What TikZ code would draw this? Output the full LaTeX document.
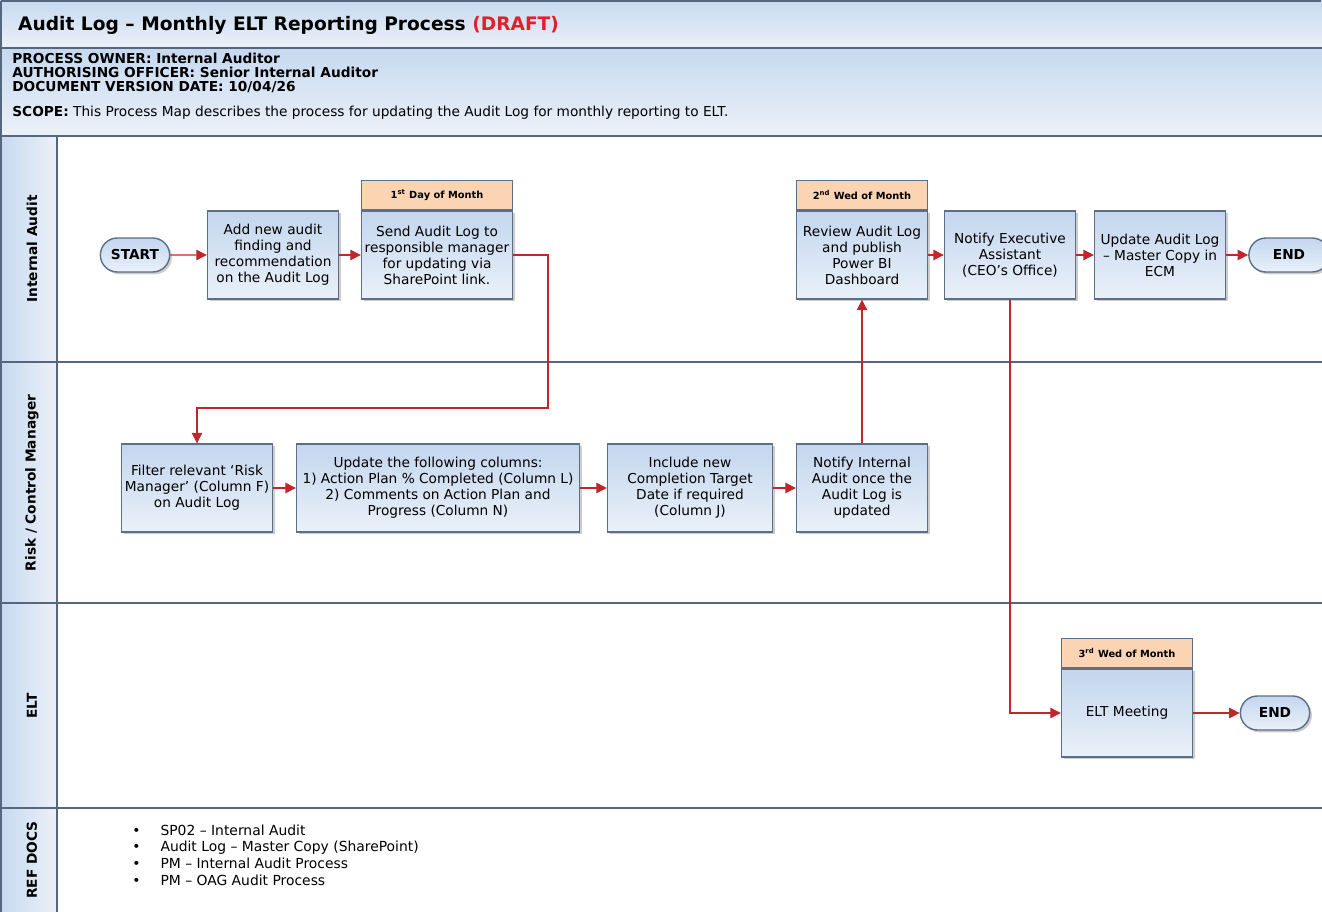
\documentclass[tikz,border=0pt]{standalone}
\usepackage{fontspec}
\setmainfont{DejaVu Sans}
\usetikzlibrary{arrows.meta,shadows,shapes.misc,positioning}

\definecolor{boxtop}{HTML}{C3D6EE}
\definecolor{boxbot}{HTML}{EAF1F9}
\definecolor{boxline}{HTML}{5B6F86}
\definecolor{hdrfill}{HTML}{FBD4B4}
\definecolor{flowred}{HTML}{C0272D}
\definecolor{laneline}{HTML}{56677D}
\definecolor{bandtop}{HTML}{C6D9F0}
\definecolor{bandbot}{HTML}{ECF1F8}
\definecolor{draftred}{HTML}{E0202A}

\begin{document}
\begin{tikzpicture}[
        x=0.02cm, y=-0.02cm,
        task/.style={rectangle, draw=boxline, thick, top color=boxtop, bottom color=boxbot, minimum width=2.62cm, minimum height=1.76cm, inner sep=1pt, align=center, font=\fontsize{7.8}{9.1}\selectfont, drop shadow={shadow xshift=1.3pt, shadow yshift=-1.3pt, fill=black!40}},
        day_box/.style={rectangle, draw=boxline, thick, fill=hdrfill, minimum width=2.62cm, minimum height=0.58cm, inner sep=1pt, font=\bfseries\fontsize{5.6}{6}\selectfont},
        term/.style={rounded rectangle, draw=boxline, thick, top color=boxtop, bottom color=boxbot, minimum width=1.62cm, minimum height=0.68cm, font=\bfseries\fontsize{7.8}{9}\selectfont, drop shadow={shadow xshift=1.3pt, shadow yshift=-1.3pt, fill=black!40}},
        arrow/.style={-{Triangle[length=6pt, width=6pt]}, draw=flowred, line width=0.6pt},
        lane_label/.style={rotate=90, font=\bfseries\fontsize{7.8}{8}\selectfont},
        frame/.style={draw=laneline, line width=1.1pt}
    ]
        \useasboundingbox (0,0) rectangle (1322,912);

        % Title and info bands
        \fill[top color=bandtop, bottom color=bandbot] (0,0) rectangle (1322,48);
        \fill[top color=bandtop, bottom color=bandbot] (0,48) rectangle (1322,136);
        \fill[left color=bandtop, right color=bandbot] (0,136) rectangle (57,912);

        \node[anchor=west, font=\bfseries\fontsize{10.6}{12}\selectfont] (title) at (12,25)
            {Audit Log – Monthly ELT Reporting Process \textcolor{draftred}{(DRAFT)}};
        \node[anchor=north west, align=left, inner sep=0pt, font=\bfseries\fontsize{7.8}{7.9}\selectfont] (owner) at (12,53)
            {PROCESS OWNER: Internal Auditor\\AUTHORISING OFFICER: Senior Internal Auditor\\DOCUMENT VERSION DATE: 10/04/26};
        \node[anchor=west, inner sep=0pt, font=\fontsize{7.8}{9}\selectfont] (scope) at (12,113)
            {\textbf{SCOPE:} This Process Map describes the process for updating the Audit Log for monthly reporting to ELT.};

        % Frame lines
        \draw[frame] (1,1) -- (1321,1) (1,1) -- (1,912);
        \draw[frame] (0,48) -- (1322,48);
        \draw[frame] (0,136) -- (1322,136);
        \draw[frame] (0,362) -- (1322,362);
        \draw[frame] (0,603) -- (1322,603);
        \draw[frame] (0,808) -- (1322,808);
        \draw[frame] (57,136) -- (57,912);

        % Lane labels
        \node[lane_label] (lane_ia) at (32,249) {Internal Audit};
        \node[lane_label] (lane_rm) at (32,483) {Risk / Control Manager};
        \node[lane_label] (lane_elt) at (32,706) {ELT};
        \node[lane_label] (lane_ref) at (32,860) {REF DOCS};

        % Internal Audit lane
        \node[term] (start) at (135,255) {START};
        \node[task] (addfind) at (273,255) {Add new audit\\finding and\\recommendation\\on the Audit Log};
        \node[task, minimum width=3.02cm] (send) at (437,255) {Send Audit Log to\\responsible manager\\for updating via\\SharePoint link.};
        \node[day_box, minimum width=3.02cm, above=0pt of send] (day_first) {1\textsuperscript{st} Day of Month};
        \node[task] (review) at (862,255) {Review Audit Log\\and publish\\Power BI\\Dashboard};
        \node[day_box, above=0pt of review] (day_second) {2\textsuperscript{nd} Wed of Month};
        \node[task] (notexec) at (1010,255) {Notify Executive\\Assistant\\(CEO’s Office)};
        \node[task] (updmaster) at (1160,255) {Update Audit Log\\– Master Copy in\\ECM};
        \node[term, minimum width=1.84cm] (end_ia) at (1289,255) {END};

        % Risk / Control Manager lane
        \node[task, minimum width=3.02cm] (filter) at (197,488) {Filter relevant ‘Risk\\Manager’ (Column F)\\on Audit Log};
        \node[task, minimum width=5.66cm] (updcols) at (438,488) {Update the following columns:\\1) Action Plan \% Completed (Column L)\\2) Comments on Action Plan and\\Progress (Column N)};
        \node[task, minimum width=3.3cm] (target) at (690,488) {Include new\\Completion Target\\Date if required\\(Column J)};
        \node[task] (notia) at (862,488) {Notify Internal\\Audit once the\\Audit Log is\\updated};

        % ELT lane
        \node[task] (eltmeet) at (1127,713) {ELT Meeting};
        \node[day_box, above=0pt of eltmeet] (day_third) {3\textsuperscript{rd} Wed of Month};
        \node[term] (end_elt) at (1275,713) {END};

        % REF DOCS lane
        \node[anchor=north west, inner sep=0pt, font=\fontsize{7.9}{9.5}\selectfont] (refdocs) at (132,823) {%
            \begin{tabular}{@{}l@{\hspace{0.4cm}}l@{}}
                \textbullet & SP02 – Internal Audit\\
                \textbullet & Audit Log – Master Copy (SharePoint)\\
                \textbullet & PM – Internal Audit Process\\
                \textbullet & PM – OAG Audit Process
            \end{tabular}};

        % Connectors
        \coordinate (sendturn) at (548,408);
        \draw[arrow] (start) -- (addfind);
        \draw[arrow] (addfind) -- (send);
        \draw[arrow] (send.east) -| (sendturn) -| (filter.north);
        \draw[arrow] (filter) -- (updcols);
        \draw[arrow] (updcols) -- (target);
        \draw[arrow] (target) -- (notia);
        \draw[arrow] (notia) -- (review);
        \draw[arrow] (review) -- (notexec);
        \draw[arrow] (notexec) -- (updmaster);
        \draw[arrow] (updmaster) -- (end_ia);
        \draw[arrow] (notexec.south) |- (eltmeet.west);
        \draw[arrow] (eltmeet) -- (end_elt);

    \end{tikzpicture}
\end{document}
